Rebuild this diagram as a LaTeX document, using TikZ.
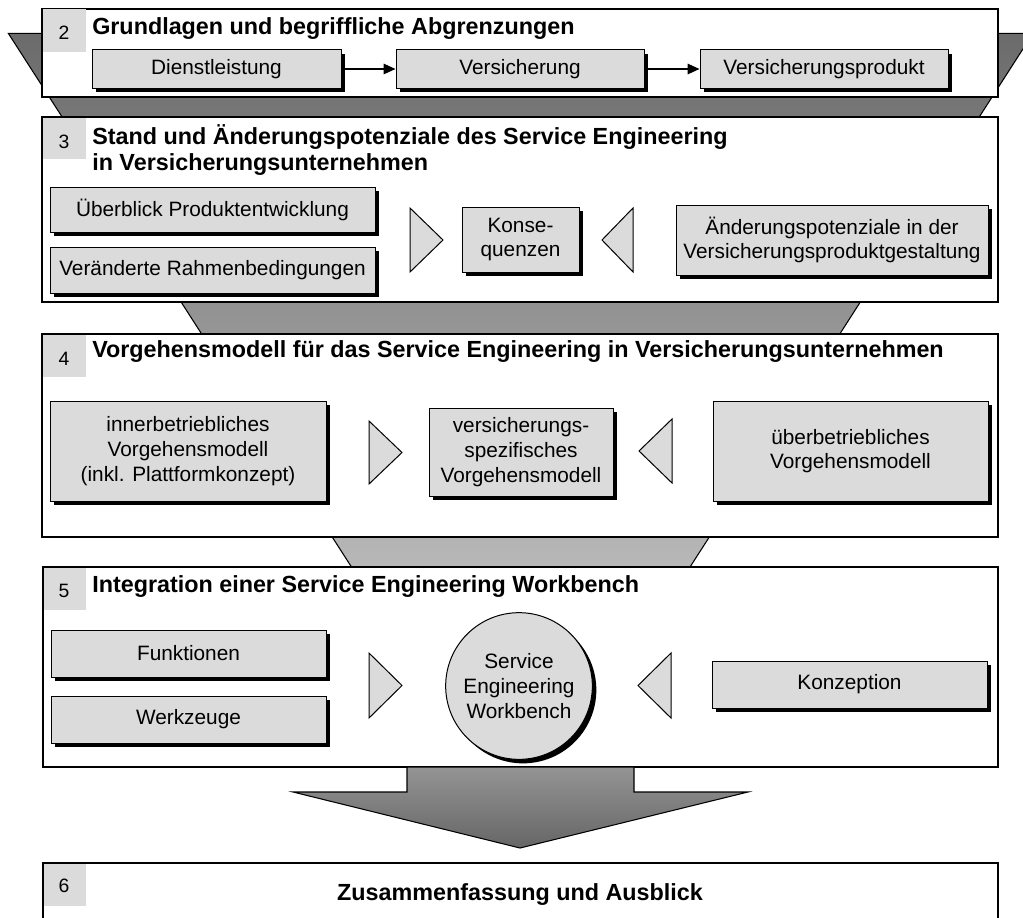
\documentclass[tikz,border=0pt]{standalone}
\usepackage{fontspec}
\setmainfont{Liberation Sans}
\usetikzlibrary{shadows,fit,shapes.geometric,arrows.meta}
\definecolor{boxgray}{gray}{0.86}
\definecolor{funtop}{gray}{0.42}
\definecolor{funbot}{gray}{0.72}
\definecolor{arrtop}{gray}{0.58}
\definecolor{arrbot}{gray}{0.40}
\tikzset{
 section/.style={draw=black, line width=0.8pt, fill=white, inner sep=0pt},
 lab/.style={fill=boxgray},
 num/.style={font=\fontsize{14.5}{16}\selectfont, inner sep=0pt, anchor=base},
 ttl/.style={font=\fontsize{17.5}{20}\selectfont\bfseries, inner sep=0pt, anchor=base west},
 sbox/.style={draw=black, line width=0.75pt, fill=boxgray, inner sep=0pt, align=center,
   font=\fontsize{15.6}{18.5}\selectfont,
   drop shadow={shadow xshift=3pt, shadow yshift=-3pt, fill=black, opacity=1}},
 tri/.style={draw=black, line width=0.75pt, fill=boxgray},
 link/.style={draw=black, line width=0.8pt, -{Triangle[length=9pt,width=8pt]}},
}
% box from (x1,y1) to (x2,y2) in pixel units
\newcommand{\pbox}[6]{\node[sbox, minimum width={(#4-#2)*0.75pt}, minimum height={(#5-#3)*0.75pt}]
  (#1) at ({(#2+#4)/2},{(#3+#5)/2}) {#6};}
\begin{document}
\begin{tikzpicture}[x=0.75pt,y=-0.75pt]
\useasboundingbox (0,0) rectangle (1023,917);
\clip (0,0) rectangle (1023,917);
% funnel
\shadedraw[top color=funtop, bottom color=funbot, draw=black, line width=0.8pt]
  (8.3,33.3) -- (1033,33.3) -- (690,567) -- (351.5,567) -- cycle;

% ---- Section 2
\node[section, fit={(42,9)(998,97)}] (s2) {};
\fill[lab] (42.5,9.5) rectangle (86,52);
\node[num] (n2) at (64,40) {2};
\node[ttl] (t2) at (92,35) {Grundlagen und begriffliche Abgrenzungen};
\pbox{dl}{92}{50}{341}{88}{Dienstleistung}
\pbox{vs}{396}{50}{644}{88}{Versicherung}
\pbox{vp}{700}{50}{948}{88}{Versicherungsprodukt}
\draw[link] (dl.east) -- (vs.west);
\draw[link] (vs.east) -- (vp.west);

% ---- Section 3
\node[section, fit={(42,117)(998,302)}] (s3) {};
\fill[lab] (42.5,117.5) rectangle (86,159);
\node[num] (n3) at (64,148) {3};
\node[ttl] (t3a) at (92,144) {Stand und Änderungspotenziale des Service Engineering};
\node[ttl] (t3b) at (92,170) {in Versicherungsunternehmen};
\pbox{up}{50}{187}{375}{232}{Überblick Produktentwicklung}
\pbox{vr}{50}{247}{375}{293}{Veränderte Rahmenbedingungen}
\filldraw[tri] (410,208) -- (443,240) -- (410,272) -- cycle;
\pbox{ko}{462}{207}{579}{272}{Konse-\\quenzen}
\filldraw[tri] (633,208) -- (602,240) -- (633,272) -- cycle;
\pbox{ap}{676}{205}{988}{275}{Änderungspotenziale in der\\Versicherungsproduktgestaltung}

% ---- Section 4
\node[section, fit={(42,334)(998,537)}] (s4) {};
\fill[lab] (42.5,334.5) rectangle (86,377);
\node[num] (n4) at (64,365) {4};
\node[ttl] (t4) at (92,357) {Vorgehensmodell für das Service Engineering in Versicherungsunternehmen};
\pbox{iv}{50}{401}{326}{501}{innerbetriebliches\\Vorgehensmodell\\(inkl. Plattformkonzept)}
\filldraw[tri] (369,421) -- (402,452.5) -- (369,484) -- cycle;
\pbox{vsm}{429}{408}{613}{496}{versicherungs-\\spezifisches\\Vorgehensmodell}
\filldraw[tri] (672,419) -- (639,451) -- (672,483) -- cycle;
\pbox{uv}{713}{401}{988}{501}{überbetriebliches\\Vorgehensmodell}

% ---- Section 5
\node[section, fit={(43,567)(998,767)}] (s5) {};
\fill[lab] (43.5,567.5) rectangle (86,610);
\node[num] (n5) at (64,597) {5};
\node[ttl] (t5) at (92,592) {Integration einer Service Engineering Workbench};
\pbox{fu}{51}{630}{326}{677}{Funktionen}
\pbox{wz}{51}{696}{326}{743}{Werkzeuge}
\filldraw[tri] (369,653) -- (402,685.5) -- (369,718) -- cycle;
\node[sbox, circle, minimum size=110pt] (sew) at (519,686) {Service\\Engineering\\Workbench};
\filldraw[tri] (671,653) -- (638,685.5) -- (671,718) -- cycle;
\pbox{kz}{712}{661}{987}{708}{Konzeption}

% ---- big arrow
\shadedraw[top color=arrtop, bottom color=arrbot, draw=black, line width=0.8pt]
  (407,767) -- (634,767) -- (634,792) -- (748,792) -- (520,848) -- (293,792) -- (407,792) -- cycle;

% ---- Section 6
\node[section, fit={(43,863)(998,930)}] (s6) {};
\fill[lab] (43.5,863.5) rectangle (86,906);
\node[num] (n6) at (64,892) {6};
\node[ttl, anchor=base] (t6) at (520,900) {Zusammenfassung und Ausblick};
\end{tikzpicture}
\end{document}
